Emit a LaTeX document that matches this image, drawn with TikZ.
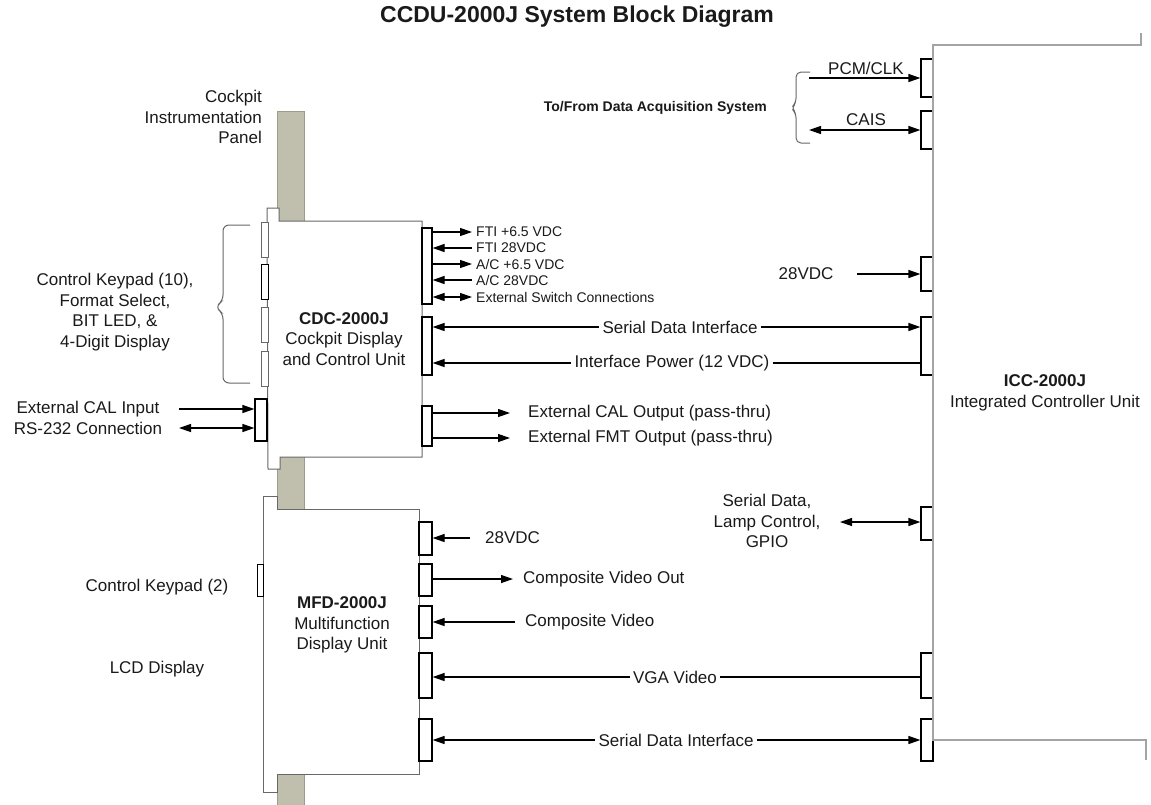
\documentclass[tikz,border=0pt]{standalone}
\usepackage{fontspec}
\setmainfont{Liberation Sans}
\usetikzlibrary{arrows.meta}
\definecolor{panelc}{HTML}{C0BFAE}
\definecolor{paneld}{HTML}{9C9C8C}
\definecolor{boxc}{HTML}{686868}
\definecolor{iccc}{HTML}{A4A4A4}
\definecolor{txtc}{HTML}{1A1A1A}
\tikzset{
  lab/.style={font=\fontsize{17}{20.5}\selectfont, text=txtc, inner sep=0pt},
  smalllab/.style={font=\fontsize{14}{16}\selectfont, text=txtc, inner xsep=4pt, inner ysep=0pt},
  gaplab/.style={lab, inner xsep=3pt},
  conn/.style={draw=black, line width=1.2pt, fill=white, inner sep=0pt, minimum width=12pt},
  gconn/.style={draw=boxc, line width=1pt, fill=white, inner sep=0pt, minimum width=7pt},
  sig/.style={draw=black, line width=1.2pt},
  ar/.style={-{Triangle[length=12pt,width=8pt]}},
  ra/.style={{Triangle[length=12pt,width=8pt]}-},
  aa/.style={{Triangle[length=12pt,width=8pt]}-{Triangle[length=12pt,width=8pt]}},
  bracestyle/.style={draw=boxc, line width=1pt, rounded corners=6pt},
  unitbox/.style={draw=boxc, line width=1pt, fill=white},
}
\begin{document}
\begin{tikzpicture}[x=1pt,y=-1pt]
\useasboundingbox (0,0) rectangle (1151,804);
\fill[white] (0,0) rectangle (1151,804);

% title
\node[font=\bfseries\fontsize{23}{26}\selectfont, text=txtc] (title) at (577,17) {CCDU-2000J System Block Diagram};

% cockpit panel
\filldraw[fill=panelc, draw=paneld, line width=0.8pt] (277,111) rectangle (304,806);
\node[lab, align=right, anchor=east] (cip) at (262,117) {Cockpit\\Instrumentation\\Panel};

% CDC unit
\filldraw[unitbox] (267,208) -- (279,208) -- (279,221) -- (422,221) -- (422,457) -- (280,457) -- (280,469) -- (268,469) -- cycle;
\node[lab, align=center] (cdc) at (344,339) {\textbf{CDC-2000J}\\Cockpit Display\\and Control Unit};
\node[gconn, minimum height=35pt] (cdcL1) at (264.5,239.5) {};
\node[conn, line width=1pt, minimum width=7pt, minimum height=35pt] (cdcL2) at (264.5,281.5) {};
\node[gconn, minimum height=35pt] (cdcL3) at (264.5,324.5) {};
\node[gconn, minimum height=35pt] (cdcL4) at (264.5,368.5) {};
\node[conn, minimum height=42pt] (cdcL5) at (261,420) {};
\node[conn, minimum width=10pt, minimum height=76pt] (cdcR1) at (427,266) {};
\node[conn, minimum width=10pt, minimum height=58pt] (cdcR2) at (427,346) {};
\node[conn, minimum width=10pt, minimum height=40pt] (cdcR3) at (427,426) {};

% keypad brace and label
\draw[bracestyle] (250,225) -- (223,225) -- (223,301) -- (215,307) -- (223,313) -- (223,383) -- (250,383);
\node[lab, align=center] (kp10) at (115,312) {Control Keypad (10),\\Format Select,\\BIT LED, \&\\4-Digit Display};

% external CAL / RS-232
\node[lab] (calin) at (88,409) {External CAL Input};
\node[lab] (rs232) at (88,428) {RS-232 Connection};
\coordinate (calinS) at (179,409);
\coordinate (rs232S) at (179,428);
\draw[sig, ar] (calinS) -- (cdcL5.west |- calinS);
\draw[sig, aa] (rs232S) -- (cdcL5.west |- rs232S);

% CDC right small signals
\node[smalllab, anchor=west] (fti65) at (472,232) {FTI +6.5 VDC};
\node[smalllab, anchor=west] (fti28) at (472,248) {FTI 28VDC};
\node[smalllab, anchor=west] (ac65) at (472,264) {A/C +6.5 VDC};
\node[smalllab, anchor=west] (ac28) at (472,280) {A/C 28VDC};
\node[smalllab, anchor=west] (exsw) at (472,297) {External Switch Connections};
\draw[sig, ar] (cdcR1.east |- fti65) -- (fti65.west);
\draw[sig, ra] (cdcR1.east |- fti28) -- (fti28.west);
\draw[sig, ar] (cdcR1.east |- ac65) -- (ac65.west);
\draw[sig, ra] (cdcR1.east |- ac28) -- (ac28.west);
\draw[sig, aa] (cdcR1.east |- exsw) -- (exsw.west);

% CDC pass-thru outputs
\node[lab, anchor=west] (calout) at (528,413) {External CAL Output (pass-thru)};
\node[lab, anchor=west] (fmtout) at (528,438) {External FMT Output (pass-thru)};
\coordinate (caloutE) at (510,413);
\coordinate (fmtoutE) at (510,438);
\draw[sig, ar] (cdcR3.east |- caloutE) -- (caloutE);
\draw[sig, ar] (cdcR3.east |- fmtoutE) -- (fmtoutE);

% ICC unit connectors
\node[conn, minimum height=38pt] (icc1) at (927,78) {};
\node[conn, minimum height=38pt] (icc2) at (927,130) {};
\node[conn, minimum height=34pt] (icc3) at (927,274) {};
\node[conn, minimum height=58pt] (icc4) at (927,346) {};
\node[conn, minimum height=33pt] (icc5) at (927,523.5) {};
\node[conn, minimum height=45pt] (icc6) at (927,675.5) {};
\node[conn, minimum height=42pt] (icc7) at (927,740) {};
% ICC outline
\draw[draw=iccc, line width=2pt] (1141,33) -- (1141,45) -- (933,45) -- (933,740) -- (1146,740) -- (1146,760);
\node[lab, align=center] (icc) at (1045,393) {\textbf{ICC-2000J}\\Integrated Controller Unit};

% data acquisition
\node[lab] (pcml) at (866,68) {PCM/CLK};
\node[lab] (caisl) at (866,120) {CAIS};
\coordinate (pcmS) at (809,78);
\coordinate (caisS) at (809,130);
\draw[sig, ar] (pcmS) -- (icc1.west |- pcmS);
\draw[sig, aa] (caisS) -- (icc2.west |- caisS);
\draw[bracestyle, rounded corners=5pt] (810,72) -- (796,72) -- (796,103) -- (791,108) -- (796,113) -- (796,143) -- (810,143);
\node[lab, font=\bfseries\fontsize{14}{16}\selectfont, anchor=east] (daq) at (767,108) {To/From Data Acquisition System};

% ICC 28VDC
\node[lab] (v28) at (806,274) {28VDC};
\coordinate (v28S) at (857,274);
\draw[sig, ar] (v28S) -- (icc3.west |- v28S);

% CDC <-> ICC
\node[gaplab] (sdi1) at (680,327) {Serial Data Interface};
\draw[sig, ra] (cdcR2.east |- sdi1) -- (sdi1.west);
\draw[sig, ar] (sdi1.east) -- (icc4.west |- sdi1);
\node[gaplab] (ipw) at (672,363) {Interface Power (12 VDC)};
\draw[sig, ra] (cdcR2.east |- ipw) -- (ipw.west);
\draw[sig] (ipw.east) -- (icc4.west |- ipw);

% Serial data, lamp control
\node[lab, align=center] (sdl) at (767,521) {Serial Data,\\Lamp Control,\\GPIO};
\coordinate (sdlS) at (840,522);
\draw[sig, aa] (sdlS) -- (icc5.west |- sdlS);

% MFD unit
\filldraw[unitbox] (263,496) -- (277,496) -- (277,509) -- (419,509) -- (419,774) -- (277,774) -- (277,792) -- (263,792) -- cycle;
\node[lab, align=center] (mfd) at (342,625) {\textbf{MFD-2000J}\\Multifunction\\Display Unit};
\node[gconn, draw=black, minimum width=6pt, minimum height=32pt] (mfdL) at (260,580) {};
\node[conn, minimum width=13pt, minimum height=33pt] (mfdR1) at (425.5,538.5) {};
\node[conn, minimum width=13pt, minimum height=32pt] (mfdR2) at (425.5,580) {};
\node[conn, minimum width=13pt, minimum height=32pt] (mfdR3) at (425.5,622) {};
\node[conn, minimum width=13pt, minimum height=45pt] (mfdR4) at (425.5,675.5) {};
\node[conn, minimum width=13pt, minimum height=42pt] (mfdR5) at (425.5,740) {};
\node[lab] (kp2) at (157,587) {Control Keypad (2)};
\node[lab] (lcd) at (157,669) {LCD Display};

\node[lab, anchor=west] (m28) at (485,538) {28VDC};
\coordinate (m28S) at (470,538);
\draw[sig, ra] (mfdR1.east |- m28S) -- (m28S);
\node[lab, anchor=west] (cvo) at (523,579) {Composite Video Out};
\coordinate (cvoE) at (513,579);
\draw[sig, ar] (mfdR2.east |- cvoE) -- (cvoE);
\node[lab, anchor=west] (cvi) at (525,622) {Composite Video};
\coordinate (cviS) at (515,622);
\draw[sig, ra] (mfdR3.east |- cviS) -- (cviS);

\node[gaplab] (vga) at (675,677) {VGA Video};
\draw[sig, ra] (mfdR4.east |- vga) -- (vga.west);
\draw[sig] (vga.east) -- (icc6.west |- vga);
\node[gaplab] (sdi2) at (676,740) {Serial Data Interface};
\draw[sig, ra] (mfdR5.east |- sdi2) -- (sdi2.west);
\draw[sig, ar] (sdi2.east) -- (icc7.west |- sdi2);
\end{tikzpicture}
\end{document}
